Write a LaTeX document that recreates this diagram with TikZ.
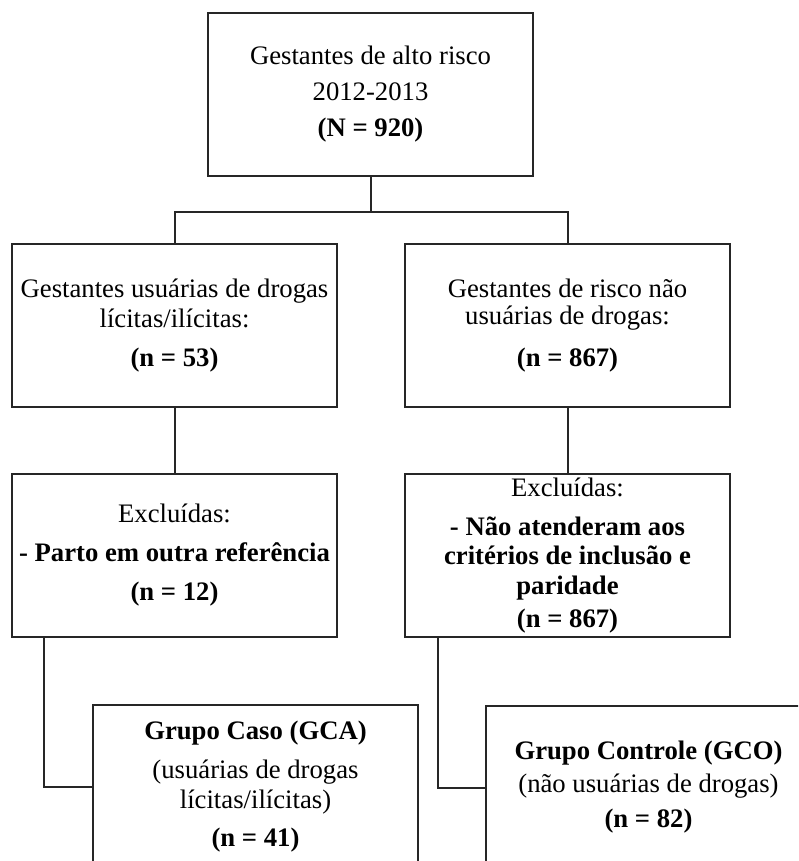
\documentclass[tikz,border=0pt]{standalone}
\usepackage{fontspec}
\setmainfont{Liberation Serif}
\usetikzlibrary{positioning}

\begin{document}
\begin{tikzpicture}[
  x=1pt, y=1pt,
  box/.style = {draw=black!85, line width=2pt, minimum width=325,
                minimum height=163, align=center, inner sep=0pt,
                font=\fontsize{26.7}{29.5}\selectfont},
  ln/.style  = {draw=black!85, line width=2pt},
]
  \useasboundingbox (0,0) rectangle (798,-861);
  \clip (0,0) rectangle (798,-861);

  % ---- all pregnant women -----------------------------------
  \node[box] (tot)  at (370.5, -94.5) {Gestantes de alto risco\\[6.5pt]
    2012-2013\\[6.5pt]\textbf{(N = 920)}};

  % ---- split by drug use ------------------------------------
  \node[box] (usu)  at (174.5,-325.5) {Gestantes usuárias de drogas\\
    lícitas/ilícitas:\\[9.5pt]\textbf{(n = 53)}};
  \node[box] (nus)  at (567.5,-325.5) {Gestantes de risco não\\[-2pt]
    usuárias de drogas:\\[12pt]\textbf{(n = 867)}};

  % ---- exclusions -------------------------------------------
  \node[box] (exc1) at (174.5,-555.5) {Excluídas:\\[9.5pt]
    \textbf{- Parto em outra referência}\\[9.5pt]\textbf{(n = 12)}};
  \node[box] (exc2) at (567.5,-555.5) {Excluídas:\\[9.5pt]
    \textbf{- Não atenderam aos}\\\textbf{critérios de inclusão e}\\
    \textbf{paridade}\\[3.5pt]\textbf{(n = 867)}};

  % ---- final groups -----------------------------------------
  \node[box] (gca)  at (255.5,-786.5) {\textbf{Grupo Caso (GCA)}\\[9.5pt]
    (usuárias de drogas\\lícitas/ilícitas)\\[8.5pt]\textbf{(n = 41)}};
  \node[box] (gco)  at (648.5,-787.5) {\textbf{Grupo Controle (GCO)}\\[3.5pt]
    (não usuárias de drogas)\\[5.5pt]\textbf{(n = 82)}};

  % ---- connectors -------------------------------------------
  \draw[ln] (tot.south) -- ++(0,-35) coordinate (split);
  \draw[ln] (usu.north) |- (split) -| (nus.north);
  \draw[ln] (usu) -- (exc1);
  \draw[ln] (nus) -- (exc2);
  \draw[ln] ([xshift=-130.5]exc1.south) |- (gca.west);
  \draw[ln] ([xshift=-129.5]exc2.south) |- (gco.west);

\end{tikzpicture}
\end{document}
